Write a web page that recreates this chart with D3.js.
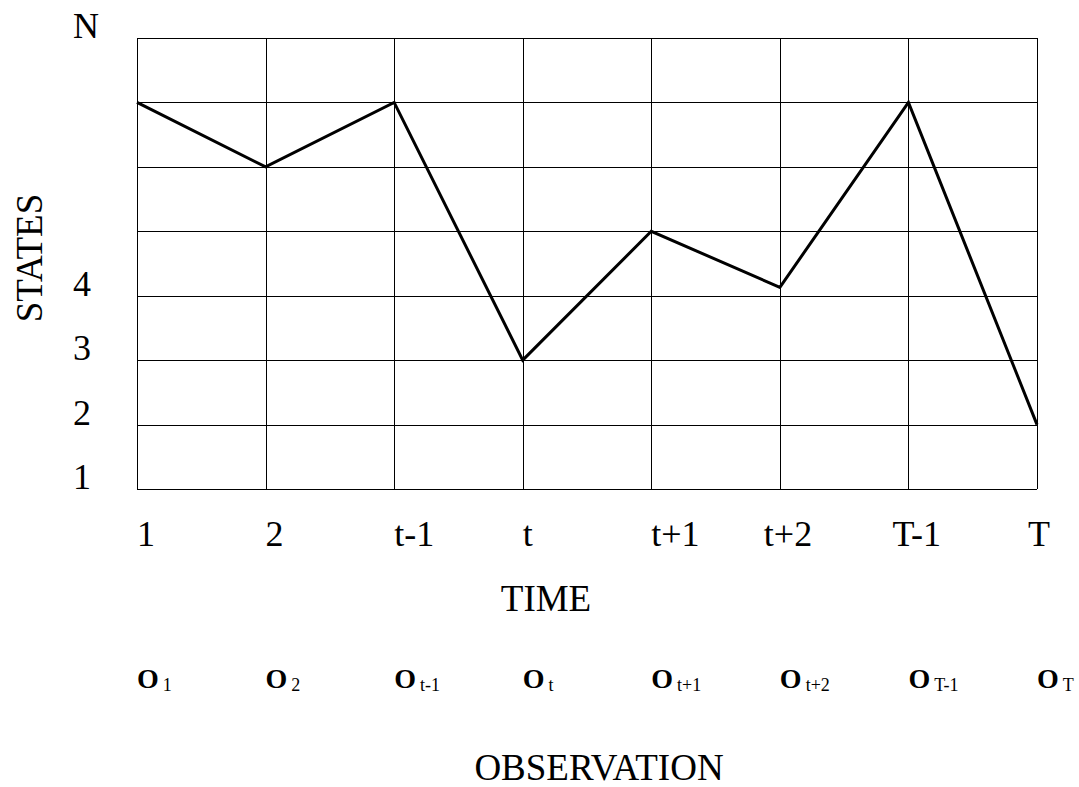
<!DOCTYPE html>
<html lang="en">
<head>
    <meta charset="utf-8">
    <title>States over time</title>
    <style>
        html, body { margin: 0; padding: 0; background: #fff; }
        svg text { font-family: "Liberation Serif", "Times New Roman", serif; fill: #000; }
        .grid line { stroke: #000; stroke-width: 1; shape-rendering: crispEdges; }
        .path-line { fill: none; stroke: #000; stroke-width: 3; stroke-linejoin: miter; }
    </style>
</head>
<body>
    <svg id="chart"></svg>

    <script src="https://cdnjs.cloudflare.com/ajax/libs/d3/7.8.5/d3.min.js"></script>
    <script>
        // time steps (columns) and their labels
        const timeLabels = ['1', '2', 't-1', 't', 't+1', 't+2', 'T-1', 'T'];
        const obsSubs = ['1', '2', 't-1', 't', 't+1', 't+2', 'T-1', 'T'];

        // state rows 1..8, only some are labelled
        const stateRows = [1, 2, 3, 4, 5, 6, 7, 8];
        const stateLabels = [[1, '1'], [2, '2'], [3, '3'], [4, '4'], [8, 'N']];

        // state visited at each time step
        const pathStates = [7, 6, 7, 3, 5, 4.13, 7, 2];

        const width = 1079;
        const height = 787;

        // some time labels sit a bit left of their grid line
        const labelNudge = [0, 0, 0, 0, 0, -16, -16, -9];

        const svg = d3.select('#chart')
            .attr('width', width)
            .attr('height', height);

        const x = d3.scalePoint()
            .domain(d3.range(timeLabels.length))
            .range([137, 1037]);

        const y = d3.scaleLinear()
            .domain([1, 8])
            .range([489, 38]);

        // grid
        const grid = svg.append('g').attr('class', 'grid');

        grid.selectAll('.v')
            .data(d3.range(timeLabels.length))
            .enter().append('line')
            .attr('class', 'v')
            .attr('x1', d => Math.round(x(d)) + 0.5)
            .attr('x2', d => Math.round(x(d)) + 0.5)
            .attr('y1', y(8))
            .attr('y2', y(1));

        grid.selectAll('.h')
            .data(stateRows)
            .enter().append('line')
            .attr('class', 'h')
            .attr('x1', x(0))
            .attr('x2', x(timeLabels.length - 1))
            .attr('y1', d => Math.round(y(d)) + 0.5)
            .attr('y2', d => Math.round(y(d)) + 0.5);

        // state path
        const line = d3.line()
            .x((d, i) => x(i))
            .y(d => y(d));

        svg.append('path')
            .datum(pathStates)
            .attr('class', 'path-line')
            .attr('d', line);

        // state labels
        svg.append('g')
            .selectAll('text')
            .data(stateLabels)
            .enter().append('text')
            .attr('x', 73)
            .attr('y', d => y(d[0]))
            .style('font-size', '36px')
            .text(d => d[1]);

        svg.append('text')
            .attr('transform', 'translate(42,258) rotate(-90)')
            .attr('text-anchor', 'middle')
            .style('font-size', '37px')
            .text('STATES');

        // time labels
        svg.append('g')
            .selectAll('text')
            .data(timeLabels)
            .enter().append('text')
            .attr('x', (d, i) => x(i) + labelNudge[i])
            .attr('y', 546)
            .style('font-size', '36px')
            .text(d => d);

        svg.append('text')
            .attr('x', 546)
            .attr('y', 611)
            .attr('text-anchor', 'middle')
            .style('font-size', '37px')
            .text('TIME');

        // observations
        const obs = svg.append('g')
            .selectAll('text')
            .data(obsSubs)
            .enter().append('text')
            .attr('x', (d, i) => x(i))
            .attr('y', 688);

        obs.append('tspan')
            .style('font-size', '28px')
            .style('font-weight', 'bold')
            .text('O');

        obs.append('tspan')
            .attr('dx', 4)
            .attr('dy', 3)
            .style('font-size', '18px')
            .text(d => d);

        svg.append('text')
            .attr('x', 599)
            .attr('y', 780)
            .attr('text-anchor', 'middle')
            .style('font-size', '37px')
            .text('OBSERVATION');
    </script>
</body>
</html>
